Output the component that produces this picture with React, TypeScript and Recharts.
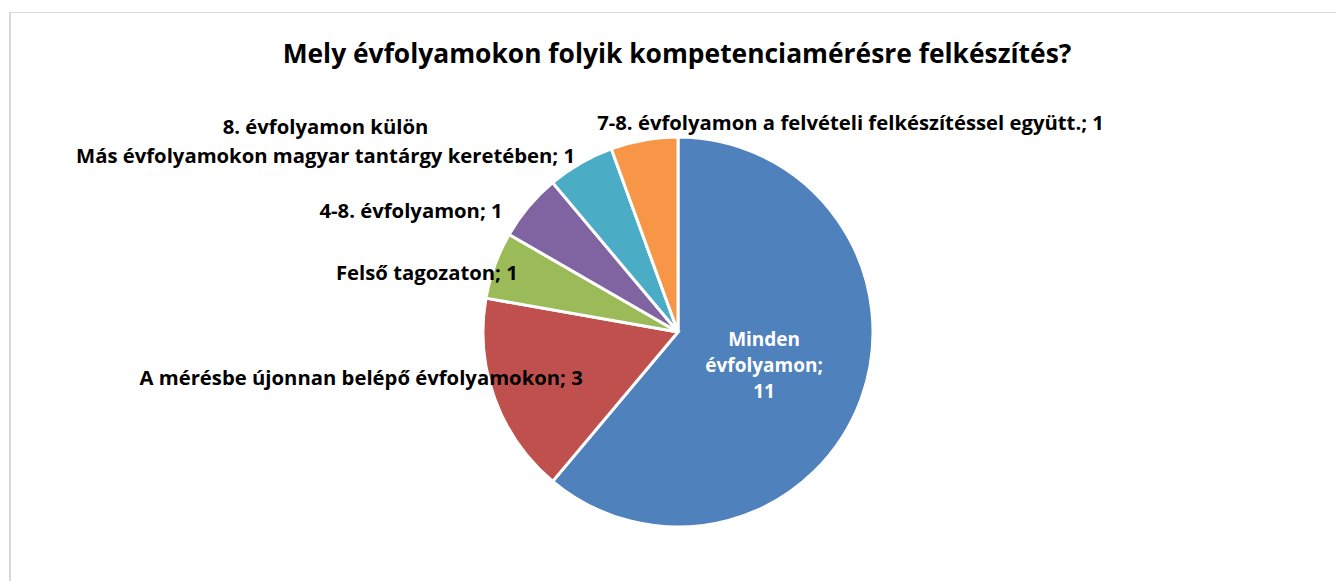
import React from 'react';
import { PieChart, Pie, Cell } from 'recharts';

const categories = [
  'Minden évfolyamon',
  'A mérésbe újonnan belépő évfolyamokon',
  'Felső tagozaton',
  '4-8. évfolyamon',
  '8. évfolyamon külön\nMás évfolyamokon magyar tantárgy keretében',
  '7-8. évfolyamon a felvételi felkészítéssel együtt.',
];
const counts = [11, 3, 1, 1, 1, 1];
const colors = ['#4F81BD', '#C0504D', '#9BBB59', '#8064A2', '#4BACC6', '#F79646'];

const title = 'Mely évfolyamokon folyik kompetenciamérésre felkészítés?';

const data = categories.map((name, i) => ({ name, value: counts[i] }));

const FONT = '"Open Sans", Lato, sans-serif';
const RADIAN = Math.PI / 180;

// label placement relative to the slice's outer point (Excel "best fit" look)
const labelOffsets: { dx: number; dy: number; anchor: 'start' | 'middle' | 'end' }[] = [
  { dx: 0, dy: 0, anchor: 'middle' },
  { dx: 88, dy: -14, anchor: 'end' },
  { dx: 23, dy: 15, anchor: 'end' },
  { dx: -26, dy: 11, anchor: 'end' },
  { dx: -255, dy: 0, anchor: 'middle' },
  { dx: -47, dy: -10, anchor: 'start' },
];

const renderLabel = (props: any) => {
  const { cx, cy, midAngle, outerRadius, index, name, value } = props;
  if (index === 0) {
    const r = outerRadius * 0.47;
    const x = cx + r * Math.cos(-midAngle * RADIAN);
    const y = cy + r * Math.sin(-midAngle * RADIAN);
    const lines = ['Minden', 'évfolyamon;', String(value)];
    return (
      <text x={x} y={y} fill="#fff" textAnchor="middle" fontFamily={FONT} fontWeight={700} fontSize={19}>
        {lines.map((l, i) => (
          <tspan key={i} x={x} y={y + 9 + (i - 1) * 26}>{l}</tspan>
        ))}
      </text>
    );
  }
  const px = cx + outerRadius * Math.cos(-midAngle * RADIAN);
  const py = cy + outerRadius * Math.sin(-midAngle * RADIAN);
  const off = labelOffsets[index];
  const lines = `${name}; ${value}`.split('\n');
  const x = px + off.dx;
  const y = py + off.dy;
  return (
    <text x={x} y={y} fill="#000" textAnchor={off.anchor} fontFamily={FONT} fontWeight={700} fontSize={20.3}>
      {lines.map((l, i) => (
        <tspan key={i} x={x} y={y - (lines.length - 1 - i) * 29}>{l}</tspan>
      ))}
    </text>
  );
};

export default function App() {
  return (
    <div style={{ position: 'absolute', left: 0, top: 0, width: 1336, height: 581, background: '#fff', overflow: 'hidden' }}>
      <div
        style={{
          position: 'absolute',
          left: 9,
          top: 12,
          width: 1340,
          height: 600,
          borderTop: '1px solid #D9D9D9',
          borderLeft: '2px solid #D9D9D9',
        }}
      />
      <svg width={1336} height={80} style={{ position: 'absolute', left: 0, top: 0 }}>
        <text x={677} y={63} textAnchor="middle" fontFamily={FONT} fontWeight={700} fontSize={26.4} fill="#000">
          {title}
        </text>
      </svg>
      <div style={{ position: 'absolute', left: 0, top: 0 }}>
        <PieChart width={1336} height={581}>
          <Pie
            data={data}
            dataKey="value"
            nameKey="name"
            cx={673}
            cy={327}
            outerRadius={195}
            startAngle={90}
            endAngle={-270}
            stroke="#fff"
            strokeWidth={3}
            label={renderLabel}
            labelLine={false}
            isAnimationActive={false}
          >
            {data.map((d, i) => (
              <Cell key={d.name} fill={colors[i]} />
            ))}
          </Pie>
        </PieChart>
      </div>
    </div>
  );
}
